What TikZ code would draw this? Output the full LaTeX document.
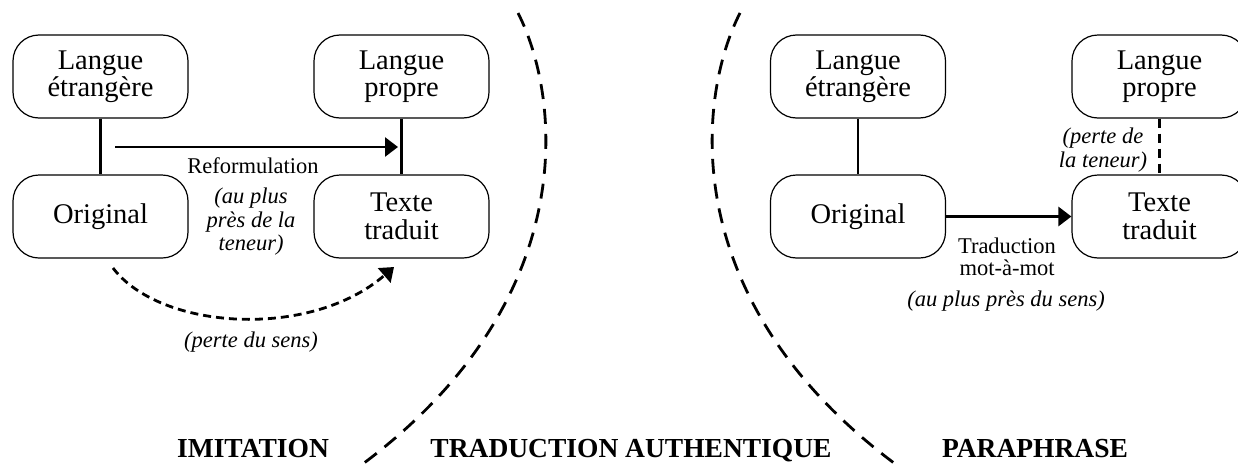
\documentclass[tikz,border=0pt]{standalone}
\usepackage{fontspec}
\setmainfont{Liberation Serif}
\usetikzlibrary{arrows.meta}
\begin{document}
\begin{tikzpicture}[x=1pt,y=-1pt,
  box/.style={draw, line width=1.2pt, rounded corners=26pt, minimum width=175pt, minimum height=83pt, align=center, font=\fontsize{28.5}{27.5}\selectfont, inner sep=0pt},
  conn/.style={line width=2.8pt},
  lbl/.style={font=\fontsize{22.5}{23.5}\selectfont, anchor=base, inner sep=0pt},
  ilbl/.style={font=\fontsize{22.5}{23.5}\selectfont\itshape, anchor=base, inner sep=0pt},
  titlelbl/.style={font=\fontsize{27.5}{30}\selectfont\bfseries, anchor=base, inner sep=0pt},
  bigdash/.style={line width=2.8pt, dash pattern=on 15pt off 10pt},
  smalldash/.style={line width=2.8pt, dash pattern=on 8pt off 5pt},
  vdash/.style={line width=2.8pt, dash pattern=on 9pt off 6pt},
  tip/.style={-{Triangle[length=13pt,width=19pt]}}
]
\path[use as bounding box] (0,0) rectangle (1238,463);
\clip (0,0) rectangle (1238,463);

% big dashed boundaries
\draw[bigdash] (518,13) .. controls (560,95) and (585,300) .. (360,466);
\draw[bigdash] (740,13) .. controls (698,95) and (673,300) .. (898,466);

% left diagram
\node[box] (le1) at (100.5,76.5) {Langue\\étrangère};
\node[box] (or1) at (100.5,216.5) {Original};
\node[box] (lp1) at (401.5,76.5) {Langue\\propre};
\node[box] (tt1) at (401.5,216.5) {Texte\\traduit};
\draw[conn] (le1) -- (or1);
\draw[conn] (lp1) -- (tt1);
\coordinate (a1s) at (115,147);
\coordinate (a1e) at (398,147);
\draw[conn,tip] (a1s) -- (a1e);
\node[lbl] (reform) at (253,173) {Reformulation};
\node[ilbl] (t1a) at (251,203) {(au plus};
\node[ilbl] (t1b) at (251,227) {près de la};
\node[ilbl] (t1c) at (251,250) {teneur)};
\coordinate (c1s) at (113,268);
\coordinate (c1e) at (394,267);
\draw[smalldash,tip] (c1s) .. controls (160,330) and (310,340) .. (c1e);
\node[ilbl] (perte1) at (251,347) {(perte du sens)};

% right diagram
\node[box] (le2) at (858,76.5) {Langue\\étrangère};
\node[box] (or2) at (858,216.5) {Original};
\node[box] (lp2) at (1159.5,76.5) {Langue\\propre};
\node[box] (tt2) at (1159.5,216.5) {Texte\\traduit};
\draw[conn] (le2) -- (or2);
\draw[conn,tip] (or2) -- (tt2);
\draw[vdash] (lp2) -- (tt2);
\node[ilbl] (p2a) at (1103,143) {(perte de};
\node[ilbl] (p2b) at (1103,167) {la teneur)};
\node[lbl] (trad1) at (1007,253) {Traduction};
\node[lbl] (trad2) at (1007,275) {mot-à-mot};
\node[ilbl] (sens2) at (1006,306) {(au plus près du sens)};

% titles
\node[titlelbl] (imit) at (253,457) {IMITATION};
\node[titlelbl] (auth) at (631,457) {TRADUCTION AUTHENTIQUE};
\node[titlelbl] (para) at (1035,457) {PARAPHRASE};
\end{tikzpicture}
\end{document}
